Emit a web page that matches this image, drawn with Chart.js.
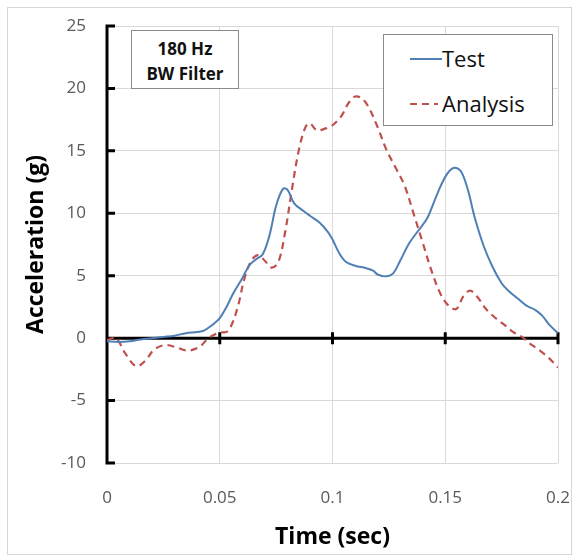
<!DOCTYPE html>
<html>
<head>
<meta charset="utf-8">
<title>Acceleration vs Time</title>
<script src="https://cdn.jsdelivr.net/npm/chart.js@4.4.1/dist/chart.umd.min.js"></script>
<style>
  body { margin: 0; background: #fff; font-family: "Open Sans", sans-serif; }
  #wrap { position: relative; width: 579px; height: 559px; }
  #frame { position: absolute; left: 7px; top: 7px; width: 563px; height: 546px; border: 1px solid #d6d6d6; pointer-events: none; }
  .box { position: absolute; background: #fff; border: 1px solid #8a8a8a; box-sizing: border-box; }
  #note { left: 131px; top: 30px; width: 108px; height: 59px; font-weight: 700; font-size: 17px; color: #111; text-align: center; }
  #note div { position: absolute; left: 0; width: 100%; line-height: 20px; }
  #legend { left: 383px; top: 34px; width: 170px; height: 92px; font-size: 22px; color: #111; }
  #legend .row { position: absolute; left: 0; height: 30px; line-height: 30px; }
  #legend svg { position: absolute; left: 26px; top: 14px; }
  #legend span { position: absolute; left: 58px; white-space: nowrap; }
</style>
</head>
<body>
<div id="wrap">
  <canvas id="chart" width="579" height="559"></canvas>
  <div id="frame"></div>
  <div id="note" class="box">
    <div style="top:8px">180 Hz</div>
    <div style="top:33px">BW Filter</div>
  </div>
  <div id="legend" class="box">
    <div class="row" style="top:8px">
      <svg width="32" height="4"><line x1="0" y1="2" x2="32" y2="2" stroke="#4f7fb5" stroke-width="2"/></svg>
      <span>Test</span>
    </div>
    <div class="row" style="top:53px">
      <svg width="28" height="4"><line x1="0" y1="2" x2="28" y2="2" stroke="#c0504d" stroke-width="2.2" stroke-dasharray="7,5"/></svg>
      <span>Analysis</span>
    </div>
  </div>
</div>
<script>
// Test vs analysis acceleration, 180 Hz BW filtered

const testTime = [0, 0.005, 0.01, 0.015, 0.02, 0.025, 0.03, 0.035, 0.04, 0.043, 0.047, 0.05,
  0.053, 0.056, 0.06, 0.063, 0.066, 0.069, 0.072, 0.075, 0.078, 0.08, 0.083, 0.087, 0.09,
  0.094, 0.098, 0.1, 0.103, 0.106, 0.11, 0.115, 0.118, 0.12, 0.124, 0.127, 0.13, 0.134,
  0.138, 0.142, 0.145, 0.148, 0.151, 0.154, 0.157, 0.16, 0.163, 0.167, 0.171, 0.175, 0.178,
  0.182, 0.186, 0.19, 0.193, 0.196, 0.2];
const testAccel = [-0.25, -0.3, -0.25, -0.1, 0, 0.1, 0.2, 0.4, 0.5, 0.6, 1.1, 1.6,
  2.5, 3.6, 4.8, 5.8, 6.3, 6.7, 8.2, 10.6, 11.95, 11.9, 10.8, 10.2, 9.8,
  9.3, 8.5, 7.9, 6.8, 6.1, 5.8, 5.6, 5.4, 5.1, 4.95, 5.2, 6.2, 7.6,
  8.6, 9.6, 10.9, 12.2, 13.2, 13.65, 13.35, 11.9, 9.7, 7.4, 5.7, 4.4, 3.8,
  3.2, 2.6, 2.25, 1.8, 1.1, 0.4];

const analysisTime = [0, 0.004, 0.008, 0.013, 0.017, 0.021, 0.026, 0.031, 0.036, 0.041, 0.045,
  0.05, 0.053, 0.055, 0.058, 0.061, 0.064, 0.067, 0.07, 0.073, 0.076, 0.079, 0.082, 0.085,
  0.088, 0.09, 0.093, 0.097, 0.1, 0.104, 0.107, 0.11, 0.113, 0.116, 0.12, 0.124, 0.128,
  0.132, 0.136, 0.14, 0.144, 0.148, 0.152, 0.155, 0.158, 0.161, 0.164, 0.168, 0.172,
  0.176, 0.18, 0.184, 0.188, 0.192, 0.196, 0.2];
const analysisAccel = [-0.15, 0, -1.2, -2.25, -1.8, -0.9, -0.55, -0.75, -1.0, -0.7, 0,
  0.45, 0.5, 0.95, 2.5, 4.8, 6.2, 6.65, 6.2, 5.65, 6.1, 8.5, 11.9, 15.0,
  16.9, 17.2, 16.65, 16.8, 17.05, 17.8, 18.8, 19.35, 19.2, 18.5, 16.9, 15.05, 13.65,
  12.2, 9.95, 7.65, 5.35, 3.5, 2.5, 2.35, 3.35, 3.8, 3.35, 2.35, 1.65,
  1.1, 0.5, 0.1, -0.5, -1.0, -1.6, -2.35];

const xTicks = [0, 0.05, 0.1, 0.15, 0.2];
const yTicks = [-10, -5, 0, 5, 10, 15, 20, 25];

function pairs(xs, ys) {
  return xs.map(function(t, i) { return { x: t, y: ys[i] }; });
}

// thick Excel-style axes: y axis on the left, x axis through zero with crossing ticks
const axisLines = {
  id: "axisLines",
  beforeDatasetsDraw(chart) {
    const ctx = chart.ctx;
    const x = chart.scales.x, y = chart.scales.y;
    const x0 = x.getPixelForValue(xTicks[0]);
    const y0 = y.getPixelForValue(0);
    const yTop = y.getPixelForValue(yTicks[yTicks.length - 1]);
    const yBot = y.getPixelForValue(yTicks[0]);
    ctx.save();
    ctx.strokeStyle = "#000";
    ctx.lineWidth = 3;
    ctx.beginPath();
    ctx.moveTo(x0, yTop - 1.5);
    ctx.lineTo(x0, yBot + 1.5);
    yTicks.forEach(function(v) {
      const py = y.getPixelForValue(v);
      ctx.moveTo(x0, py);
      ctx.lineTo(x0 + 8, py);
    });
    ctx.moveTo(x0, y0);
    ctx.lineTo(x.getPixelForValue(xTicks[xTicks.length - 1]) + 1.5, y0);
    xTicks.slice(1).forEach(function(v) {
      const px = x.getPixelForValue(v);
      ctx.moveTo(px, y0 - 6);
      ctx.lineTo(px, y0 + 6);
    });
    ctx.stroke();
    ctx.restore();
  }
};

const tickFont = { family: "Open Sans", size: 17 };
const titleFont = { family: "Open Sans", size: 23, weight: "bold" };

new Chart(document.getElementById("chart").getContext("2d"), {
  type: "line",
  data: {
    datasets: [
      {
        label: "Test",
        data: pairs(testTime, testAccel),
        borderColor: "#4f7fb5",
        borderWidth: 2,
        pointRadius: 0,
        fill: false,
        tension: 0.35,
      },
      {
        label: "Analysis",
        data: pairs(analysisTime, analysisAccel),
        borderColor: "#c0504d",
        borderWidth: 2.2,
        borderDash: [7, 5],
        pointRadius: 0,
        fill: false,
        tension: 0.35,
      },
    ],
  },
  options: {
    responsive: false,
    animation: false,
    devicePixelRatio: 1,
    layout: { padding: { top: 26, right: 21, left: 0, bottom: 0 } },
    plugins: {
      legend: { display: false },
      tooltip: { enabled: false },
    },
    scales: {
      x: {
        type: "linear",
        min: 0,
        max: 0.2,
        afterBuildTicks: function(s) { s.ticks = xTicks.map(function(v) { return { value: v }; }); },
        afterFit: function(s) { s.height = 96; s.paddingLeft = 0; s.paddingRight = 0; },
        grid: { color: "#d9d9d9", lineWidth: 1, drawTicks: false },
        border: { display: false },
        ticks: {
          font: tickFont,
          color: "#595959",
          padding: 25,
          maxRotation: 0,
          callback: function(v) { return String(v); },
        },
        title: {
          display: true,
          text: "Time (sec)",
          font: titleFont,
          color: "#000",
          padding: { top: 0, bottom: 8 },
        },
      },
      y: {
        min: -10,
        max: 25,
        afterBuildTicks: function(s) { s.ticks = yTicks.map(function(v) { return { value: v }; }); },
        afterFit: function(s) { s.width = 107; s.paddingTop = 0; s.paddingBottom = 0; },
        grid: { color: "#d9d9d9", lineWidth: 1, drawTicks: false },
        border: { display: false },
        ticks: {
          font: tickFont,
          color: "#595959",
          padding: 21,
        },
        title: {
          display: true,
          text: "Acceleration (g)",
          font: titleFont,
          color: "#000",
          padding: { top: 23, bottom: 0 },
        },
      },
    },
  },
  plugins: [axisLines],
});
</script>
</body>
</html>
